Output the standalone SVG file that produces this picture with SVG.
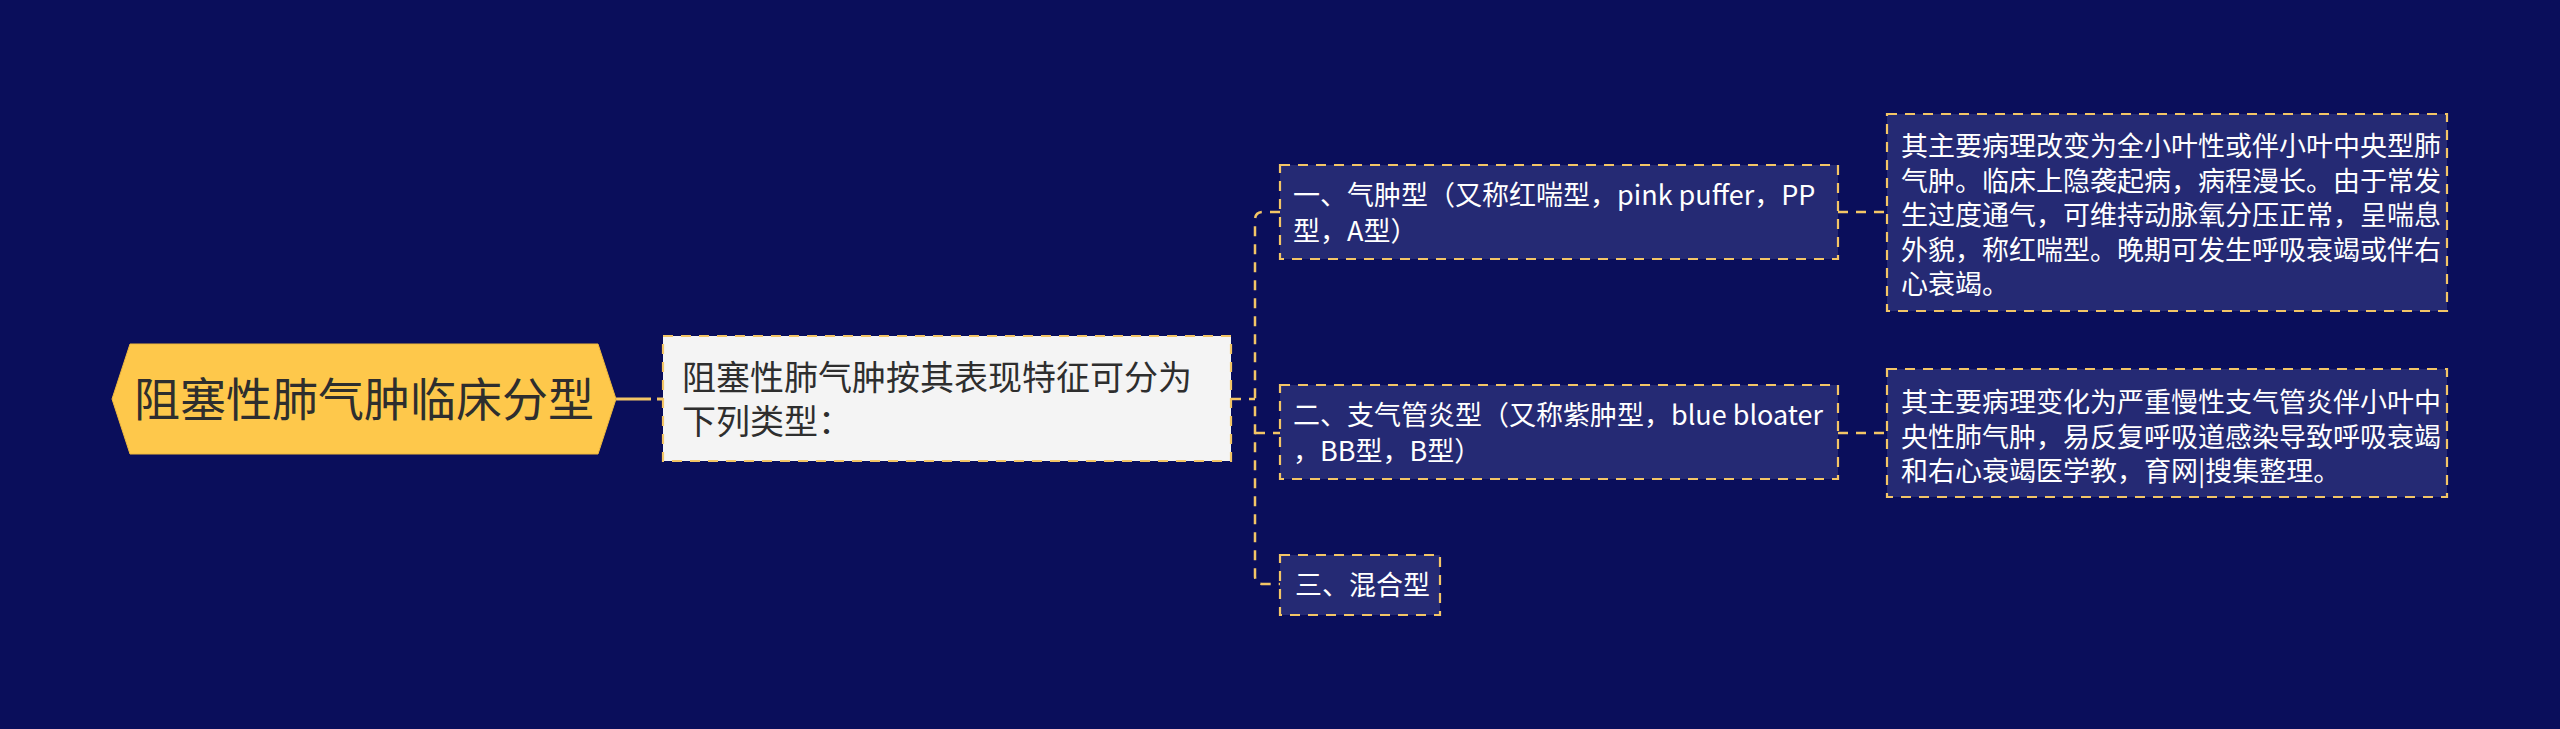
<svg xmlns="http://www.w3.org/2000/svg" width="2560" height="729" viewBox="0 0 2560 729">
<style>
.bg{fill:#0a0e5b}
.con{fill:none;stroke:#f3c566;stroke-width:2.5;stroke-dasharray:10 8}
.box{fill:#252a74;stroke:#f3c566;stroke-width:2.2;stroke-dasharray:10 8}
.t{font-family:"Noto Sans CJK SC","Noto Sans",sans-serif;fill:#ffffff;font-size:27px}
.dark{fill:#2e2e2e}
</style>
<rect class="bg" x="0" y="0" width="2560" height="729"/>
<g id="connectors">
<path d="M616,399 H663" fill="none" stroke="#f3c566" stroke-width="3" stroke-dasharray="35 6 8 100"/>
<path class="con" d="M1231,399 H1255"/>
<path class="con" d="M1280,212 H1263 Q1255,212 1255,220 V576 Q1255,584 1263,584 H1280"/>
<path class="con" d="M1255,433 H1280"/>
<path class="con" d="M1838,212 H1887"/>
<path class="con" d="M1838,433 H1887"/>
</g>
<g id="root">
<polygon points="112,399 130,344 598,344 616,399 598,454 130,454" fill="#fec84b" stroke="#f0b93c" stroke-width="1"/>
<text class="t dark" x="364" y="416" font-size="46" text-anchor="middle" style="font-size:46px">阻塞性肺气肿临床分型</text>
</g>
<g id="summary">
<rect x="663" y="336" width="568" height="125" fill="#f4f4f4" stroke="#f3c566" stroke-width="2.2" stroke-dasharray="10 8"/>
<text class="t dark" style="font-size:34px" x="682" y="390">阻塞性肺气肿按其表现特征可分为</text>
<text class="t dark" style="font-size:34px" x="682" y="434">下列类型：</text>
</g>
<g id="type1">
<rect class="box" x="1280" y="165" width="558" height="94"/>
<text class="t" x="1293" y="205">一、气肿型（又称红喘型，pink puffer，PP</text>
<text class="t" x="1293" y="241">型，A型）</text>
</g>
<g id="type2">
<rect class="box" x="1280" y="385" width="558" height="94"/>
<text class="t" x="1293" y="425">二、支气管炎型（又称紫肿型，blue bloater</text>
<text class="t" x="1293" y="461">，BB型，B型）</text>
</g>
<g id="type3">
<rect class="box" x="1280" y="555" width="160" height="60"/>
<text class="t" x="1295" y="595">三、混合型</text>
</g>
<g id="detail1">
<rect class="box" x="1887" y="114" width="560" height="197"/>
<text class="t" x="1901" y="156">其主要病理改变为全小叶性或伴小叶中央型肺</text>
<text class="t" x="1901" y="190.5">气肿。临床上隐袭起病，病程漫长。由于常发</text>
<text class="t" x="1901" y="225">生过度通气，可维持动脉氧分压正常，呈喘息</text>
<text class="t" x="1901" y="259.5">外貌，称红喘型。晚期可发生呼吸衰竭或伴右</text>
<text class="t" x="1901" y="294">心衰竭。</text>
</g>
<g id="detail2">
<rect class="box" x="1887" y="369" width="560" height="128"/>
<text class="t" x="1901" y="412">其主要病理变化为严重慢性支气管炎伴小叶中</text>
<text class="t" x="1901" y="447">央性肺气肿，易反复呼吸道感染导致呼吸衰竭</text>
<text class="t" x="1901" y="481">和右心衰竭医学教，育网|搜集整理。</text>
</g>
</svg>
